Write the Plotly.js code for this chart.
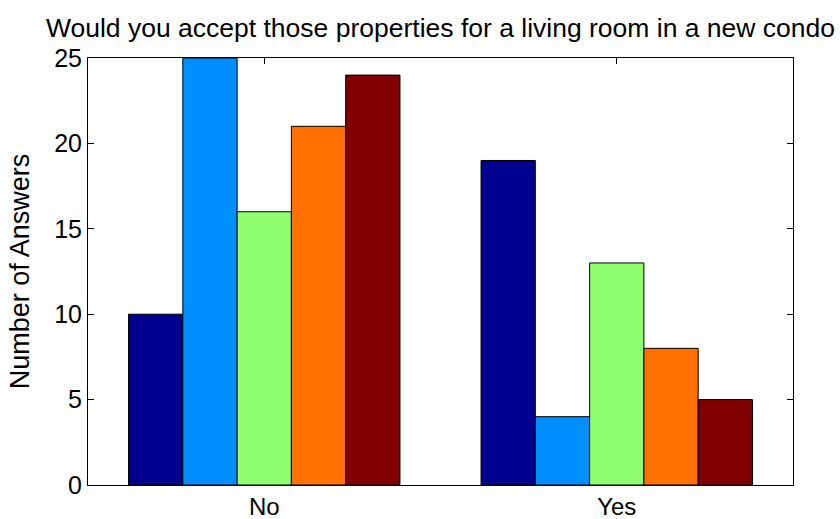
<!DOCTYPE html>
<html>
<head>
<meta charset="utf-8">
<script src="https://cdn.plot.ly/plotly-3.0.1.min.js"></script>
<style>html,body{margin:0;padding:0;background:#fff;}#chart{width:840px;height:519px;}</style>
</head>
<body>
<div id="chart"></div>
<script>
var categories = ["No", "Yes"];
var series1 = [10, 19];
var series2 = [25, 4];
var series3 = [16, 13];
var series4 = [21, 8];
var series5 = [24, 5];
var seriesValues = [series1, series2, series3, series4, series5];
var seriesColors = ["#00008F", "#008FFF", "#8FFF70", "#FF7000", "#800000"];
var yTicks = [0, 5, 10, 15, 20, 25];

var traces = seriesValues.map(function (vals, i) {
  return {
    type: "bar",
    x: categories,
    y: vals,
    marker: { color: seriesColors[i], line: { color: "#000", width: 1 } },
    showlegend: false,
    hoverinfo: "none"
  };
});

var fontFam = "Liberation Sans, Arial, Helvetica, sans-serif";
var layout = {
  width: 840, height: 519,
  margin: { l: 88, r: 47, t: 58, b: 34, pad: 0 },
  paper_bgcolor: "#fff", plot_bgcolor: "#fff",
  barmode: "group", bargap: 0.23, bargroupgap: 0,
  font: { family: fontFam, size: 25, color: "#000" },
  title: {
    text: "Would you accept those properties for a living room in a new condo",
    x: 0.5, xref: "paper", xanchor: "center",
    y: 1 - 28 / 519, yref: "container", yanchor: "middle",
    font: { family: fontFam, size: 26.5, color: "#000" }
  },
  xaxis: {
    type: "category", range: [-0.5, 1.5],
    showline: true, linecolor: "#000", linewidth: 1, mirror: "ticks",
    ticks: "inside", ticklen: 6, tickcolor: "#000",
    showgrid: false, zeroline: false, layer: "below traces",
    tickfont: { family: fontFam, size: 24, color: "#000" }
  },
  yaxis: {
    range: [0, 25], tickvals: yTicks, ticktext: yTicks.map(String),
    showline: true, linecolor: "#000", linewidth: 1, mirror: "ticks",
    ticks: "inside", ticklen: 6, tickcolor: "#000",
    showgrid: false, zeroline: false, layer: "below traces",
    tickfont: { family: fontFam, size: 25, color: "#000" },
    title: { text: "Number of Answers", font: { family: fontFam, size: 27, color: "#000" }, standoff: 16 }
  }
};

Plotly.newPlot("chart", traces, layout, { staticPlot: true });
</script>
</body>
</html>
